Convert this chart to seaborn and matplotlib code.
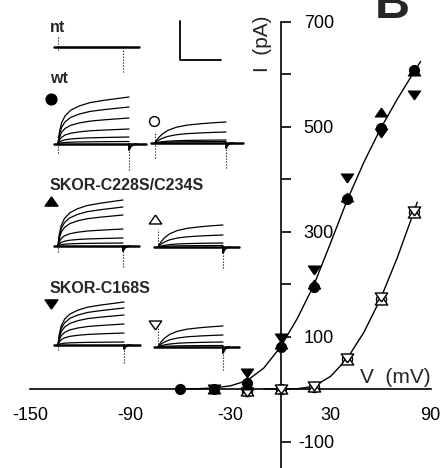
import numpy as np
import pandas as pd
import seaborn as sns
import matplotlib.pyplot as plt

#@ style: white background, Arial-like font, plain hyphen for negatives
sns.set_style("white")
plt.rcParams["font.family"] = ["Liberation Sans", "DejaVu Sans"]
plt.rcParams["axes.unicode_minus"] = False

#@ I-V data (mV, pA)
v_wt_on = [-60, -40, -20, 0, 20, 40, 60, 80]
i_wt_on = [0, 0, 11, 80, 195, 362, 497, 608]
v_dm_on = [-40, -20, 0, 20, 40, 60, 80]
i_dm_on = [0, 8, 86, 200, 366, 528, 606]
v_sm_on = [-40, -20, 0, 20, 40, 60, 80]
i_sm_on = [0, 30, 97, 227, 402, 487, 560]

v_off = [-20, 0, 20, 40, 60, 80]
i_wt_off = [-3, 0, 4, 58, 172, 338]
i_dm_off = [-3, 0, 3, 56, 170, 336]
i_sm_off = [-5, 0, 5, 60, 175, 340]

#@ fitted curves
fit_on_v = [-60, -50, -40, -30, -20, -10, 0, 10, 20, 30, 40, 50, 60, 70, 80, 84]
fit_on_i = [0, 0.5, 2, 6, 16, 40, 80, 134, 198, 278, 360, 432, 496, 552, 604, 624]
fit_off_v = [-10, 0, 10, 20, 30, 40, 50, 60, 70, 80, 82]
fit_off_i = [0, 0, 0.5, 5, 24, 58, 108, 172, 250, 338, 356]

x_ticks = [-150, -90, -30, 30, 90]
x_minor = [-120, -60, 0, 60]
y_ticks = [-100, 100, 300, 500, 700]
y_minor = [0, 200, 400, 600]

#@ current traces: time (fraction of pulse) and normalised activation
trace_t = [0, 0.02, 0.05, 0.1, 0.18, 0.3, 0.45, 0.65, 0.85, 1.0]
rise_fast = [0, 0.25, 0.45, 0.6, 0.72, 0.81, 0.88, 0.93, 0.97, 1.0]
rise_slow = [0, 0.12, 0.25, 0.42, 0.6, 0.75, 0.85, 0.92, 0.97, 1.0]

wt_on_levels = [47, 37, 26, 15, 7, 2.5]
wt_off_levels = [21, 11, 3, 1.5]
dm_on_levels = [46, 39, 31, 17, 8, 3]
dm_off_levels = [22, 12, 4, 1.5]
sm_on_levels = [43, 37, 30, 21, 12, 3]
sm_off_levels = [21, 12, 5, 1.5]

W, H = 443, 468
fig = plt.figure(figsize=(W / 100, H / 100), dpi=100)

#@ main I-V axes, pixel mapping: V=0 at x=280.5, I=0 at y=389
x0, xs = 280.5, 1.668
y0, ys = 389.0, 0.525
ax = fig.add_axes([0, 0, 1, 1])
ax.set_xlim(-x0 / xs, (W - x0) / xs)
ax.set_ylim((y0 - H) / ys, y0 / ys)
ax.patch.set_alpha(0)

sns.lineplot(x=fit_on_v, y=fit_on_i, color="black", linewidth=1.0, ax=ax,
             estimator=None, sort=False, zorder=2)
sns.lineplot(x=fit_off_v, y=fit_off_i, color="black", linewidth=1.0, ax=ax,
             estimator=None, sort=False, zorder=2)

tri_up = [(0, 0.72), (-1, -0.72), (1, -0.72), (0, 0.72)]
tri_dn = [(0, -0.72), (-1, 0.72), (1, 0.72), (0, -0.72)]

open_kw = dict(color="white", edgecolor="black", linewidth=1.0, ax=ax, zorder=3)
sns.scatterplot(x=v_off, y=i_wt_off, marker="o", s=52, **open_kw)
sns.scatterplot(x=v_off, y=i_dm_off, marker=tri_up, s=80, **open_kw)
sns.scatterplot(x=v_off, y=i_sm_off, marker=tri_dn, s=80, **open_kw)

fill_kw = dict(color="black", edgecolor="black", linewidth=0.8, ax=ax, zorder=4)
sns.scatterplot(x=v_wt_on, y=i_wt_on, marker="o", s=52, **fill_kw)
sns.scatterplot(x=v_dm_on, y=i_dm_on, marker=tri_up, s=80, **fill_kw)
sns.scatterplot(x=v_sm_on, y=i_sm_on, marker=tri_dn, s=80, **fill_kw)

#@ axes through the origin
ax.spines["left"].set_visible(False)
ax.spines["top"].set_visible(False)
ax.spines["bottom"].set_position(("data", 0))
ax.spines["right"].set_position(("data", 0))
ax.spines["bottom"].set_bounds(-150, 90)
ax.spines["right"].set_bounds((y0 - H) / ys, 700)
for s in ["bottom", "right"]:
    ax.spines[s].set_linewidth(1.2)
    ax.spines[s].set_color("black")
ax.yaxis.set_ticks_position("right")

ax.set_xticks(x_ticks)
ax.set_xticks(x_minor, minor=True)
ax.set_xticklabels([str(t) for t in x_ticks], fontsize=13)
ax.set_yticks(y_ticks)
ax.set_yticks(y_minor, minor=True)
ax.set_yticklabels([str(t) for t in y_ticks], fontsize=13, ha="right")
ax.tick_params(axis="x", which="both", direction="out", length=6, width=1.2,
               pad=7, colors="black")
ax.tick_params(axis="y", which="both", direction="out", length=7, width=1.2,
               pad=31.5, colors="black")
ax.set_xlabel("")
ax.set_ylabel("")

ax.text(90, (y0 - 383) / ys, "V  (mV)", fontsize=15, ha="right", va="baseline")
ax.text((262.5 - x0) / xs, (y0 - 43.5) / ys, "I  (pA)", fontsize=15,
        rotation=90, ha="center", va="center")
fig.text(375 / W, 1 - 18 / H, "B", fontsize=35, fontweight="bold",
         ha="left", va="baseline")

#@ overlay in pixel units for labels, symbols and the scale bar
ov = fig.add_axes([0, 0, 1, 1])
ov.set_xlim(0, W)
ov.set_ylim(H, 0)
ov.axis("off")

lab_kw = dict(fontsize=11.5, fontweight="bold", ha="left", va="baseline")
ov.text(50, 32, "nt", **lab_kw)
ov.text(50, 83, "wt", **lab_kw)
ov.text(50, 190, "SKOR-C228S/C234S", **lab_kw)
ov.text(50, 293, "SKOR-C168S", **lab_kw)

ov.plot([180, 180, 221], [21, 60, 60], color="black", linewidth=1.3)

ov.scatter([51], [99], marker="o", s=60, color="black")
ov.scatter([154], [121], marker="o", s=50, facecolor="white", edgecolor="black", linewidth=1.0)
ov.scatter([51], [201], marker=tri_up, s=85, color="black")
ov.scatter([155], [219], marker=tri_up, s=80, facecolor="white", edgecolor="black", linewidth=1.0)
ov.scatter([51], [304], marker=tri_dn, s=85, color="black")
ov.scatter([155], [325], marker=tri_dn, s=80, facecolor="white", edgecolor="black", linewidth=1.0)

#@ trace panels
T0, T1 = -0.1, 1.35
Y0, Y1 = -32, 52


def trace_axes(start, width, base):
    left, right = start + T0 * width, start + T1 * width
    top, bottom = base - Y1, base - Y0
    a = fig.add_axes([left / W, 1 - bottom / H, (right - left) / W, (bottom - top) / H])
    a.set_xlim(T0, T1)
    a.set_ylim(Y0, Y1)
    a.axis("off")
    return a


def draw_traces(a, levels, rise, start_dot, end_dot, tail):
    for lv in levels:
        sns.lineplot(x=trace_t, y=[lv * g for g in rise], color="black",
                     linewidth=0.9, ax=a, estimator=None, sort=False)
    sns.lineplot(x=[-0.06, 1.24], y=[0, 0], color="black", linewidth=1.8,
                 ax=a, estimator=None, sort=False)
    a.vlines(0, start_dot[0], start_dot[1], colors="black", linestyles=":", linewidth=0.8)
    a.vlines(1, end_dot[0], end_dot[1], colors="black", linestyles=":", linewidth=0.8)
    if tail:
        sns.lineplot(x=[1.0, 1.0, 1.02, 1.05, 1.1], y=[0, -tail, -tail * 0.5, -tail * 0.15, 0],
                     color="black", linewidth=1.4, ax=a, estimator=None, sort=False)


a = trace_axes(58, 65, 47)
draw_traces(a, [0], rise_fast, (-3, 10), (-25, 0), 0)

a = trace_axes(58, 71, 144)
draw_traces(a, wt_on_levels, rise_fast, (-9, 7), (-26, 0), 6)
a = trace_axes(155, 71, 143)
draw_traces(a, wt_off_levels, rise_slow, (-15, 11), (-25, 0), 5)

a = trace_axes(58, 65, 246)
draw_traces(a, dm_on_levels, rise_fast, (-6, 4), (-21, 0), 5)
a = trace_axes(158, 65, 247)
draw_traces(a, dm_off_levels, rise_slow, (0, 18), (-21, 0), 6)

a = trace_axes(58, 66, 345)
draw_traces(a, sm_on_levels, rise_fast, (-5, 4), (-18, 0), 4)
a = trace_axes(158, 65, 347)
draw_traces(a, sm_off_levels, rise_slow, (0, 23), (-23, 0), 6)

plt.savefig("out.png", dpi=100)
plt.close()
